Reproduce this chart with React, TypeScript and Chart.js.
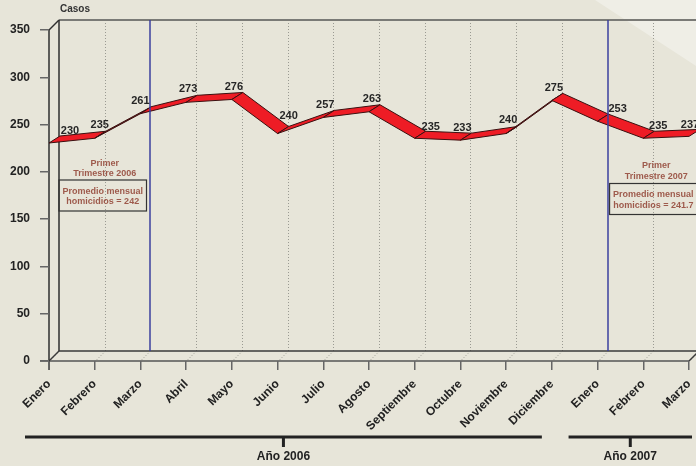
import { useEffect, useRef } from "react";
import { Chart, registerables } from "chart.js";

Chart.register(...registerables);

// ---------- data ----------
const months2006 = ["Enero", "Febrero", "Marzo", "Abril", "Mayo", "Junio", "Julio", "Agosto", "Septiembre", "Octubre", "Noviembre", "Diciembre"];
const months2007 = ["Enero", "Febrero", "Marzo"];
const categories = [...months2006, ...months2007];
const casos = [230, 235, 261, 273, 276, 240, 257, 263, 235, 233, 240, 275, 253, 235, 237];
const yMin = 0;
const yMax = 350;
const yStep = 50;
const yTitle = "Casos";
const yearLabels = ["Año 2006", "Año 2007"];
const quarterTitle2006 = ["Primer", "Trimestre 2006"];
const quarterBox2006 = ["Promedio mensual", "homicidios = 242"];
const quarterTitle2007 = ["Primer", "Trimestre 2007"];
const quarterBox2007 = ["Promedio mensual", "homicidios = 241.7"];
const markerIndices = [2, 12]; // Marzo 2006, Enero 2007

// ---------- style ----------
const W = 696;
const H = 466;
const FONT = "'Liberation Sans', Arial, Helvetica, sans-serif";
const BG = "#E7E5D9";
const DEPTH_X = 10;
const DEPTH_Y = -10;
const RIB_DX = 11;
const RIB_DY = -7;
const labelNudge: [number, number][] = [
  [19, -13], [3, -14], [-2, -13], [0, -14], [0, -13], [9, -18], [0, -13], [1, -13],
  [14, -12], [0, -13], [0, -14], [0, -13], [18, -13], [13, -13], [-1, -12],
];

const line = (ctx: CanvasRenderingContext2D, x1: number, y1: number, x2: number, y2: number) => {
  ctx.beginPath();
  ctx.moveTo(x1, y1);
  ctx.lineTo(x2, y2);
  ctx.stroke();
};

const chart3dPlugin = {
  id: "chart3d",
  beforeDraw(chart: any) {
    const { ctx, chartArea } = chart;
    const { left, right, top, bottom } = chartArea;
    const xs = chart.scales.x;
    ctx.save();
    ctx.fillStyle = BG;
    ctx.fillRect(0, 0, W, H);
    ctx.fillStyle = "#EFEEE6";
    ctx.beginPath();
    ctx.moveTo(595, 0);
    ctx.lineTo(W, 0);
    ctx.lineTo(W, 66);
    ctx.closePath();
    ctx.fill();

    const bl = left + DEPTH_X;
    const bt = top + DEPTH_Y;
    const bb = bottom + DEPTH_Y;
    const br = right + DEPTH_X;

    // dotted gridlines on back wall and floor
    ctx.strokeStyle = "#9a9a92";
    ctx.lineWidth = 1;
    ctx.setLineDash([1, 2]);
    categories.forEach((_, i) => {
      const px = Math.round(xs.getPixelForValue(i)) + 0.5;
      if (i > 0 && !markerIndices.includes(i)) line(ctx, px + DEPTH_X, bt, px + DEPTH_X, bb);
      line(ctx, px + 1, bottom - 1, px + DEPTH_X - 1, bb + 1);
    });
    ctx.setLineDash([]);

    // top edge of back wall
    ctx.strokeStyle = "#7a7a76";
    ctx.lineWidth = 2;
    line(ctx, bl, bt, W, bt);
    // back wall left edge
    ctx.strokeStyle = "#2e2e2e";
    ctx.lineWidth = 1.5;
    line(ctx, bl, bt, bl, bb);
    line(ctx, left, top, bl, bt);
    // floor
    ctx.strokeStyle = "#3a3a3a";
    line(ctx, bl, bb, br, bb);
    line(ctx, left, bottom, bl, bb);
    line(ctx, right, bottom, br, bb);
    ctx.strokeStyle = "#555";
    line(ctx, left - 9, bottom, right, bottom);
    // left axis
    ctx.strokeStyle = "#2e2e2e";
    line(ctx, left, top, left, bottom + 9);
    ctx.restore();
  },
  afterDatasetsDraw(chart: any) {
    const { ctx, chartArea } = chart;
    const { top, bottom } = chartArea;
    const meta = chart.getDatasetMeta(0);
    const pts = meta.data.map((p: any) => ({ x: p.x, y: p.y - 0.5 }));
    ctx.save();
    ctx.lineJoin = "round";
    for (let i = 0; i < pts.length - 1; i++) {
      const a = pts[i];
      const b = pts[i + 1];
      const s = (b.y - a.y) / (b.x - a.x);
      const thick = -RIB_DY + s * RIB_DX;
      ctx.beginPath();
      ctx.moveTo(a.x, a.y);
      ctx.lineTo(b.x, b.y);
      ctx.lineTo(b.x + RIB_DX, b.y + RIB_DY);
      ctx.lineTo(a.x + RIB_DX, a.y + RIB_DY);
      ctx.closePath();
      ctx.fillStyle = thick > 1.5 ? "#EE1C25" : "#7a1c1c";
      ctx.fill();
      ctx.strokeStyle = "#3a1010";
      ctx.lineWidth = 1;
      ctx.stroke();
    }

    // blue marker lines
    const xs = chart.scales.x;
    ctx.strokeStyle = "#3b3f9e";
    ctx.lineWidth = 1.5;
    markerIndices.forEach((i) => {
      const px = Math.round(xs.getPixelForValue(i)) + DEPTH_X;
      line(ctx, px, top + DEPTH_Y, px, bottom + DEPTH_Y);
    });

    // value labels
    ctx.fillStyle = "#262626";
    ctx.font = `bold 11px ${FONT}`;
    ctx.textAlign = "center";
    ctx.textBaseline = "middle";
    meta.data.forEach((p: any, i: number) => {
      const [dx, dy] = labelNudge[i];
      ctx.fillText(String(casos[i]), p.x + 2 + dx, p.y + dy);
    });
    ctx.restore();
  },
  afterDraw(chart: any) {
    const { ctx, chartArea } = chart;
    const xs = chart.scales.x;
    const px = (i: number) => xs.getPixelForValue(i);
    ctx.save();
    // y title
    ctx.fillStyle = "#333";
    ctx.font = `bold 10px ${FONT}`;
    ctx.textAlign = "left";
    ctx.textBaseline = "middle";
    ctx.fillText(yTitle, chartArea.left + 11, 9.5);

    // quarter annotations
    const annot = (title: string[], box: string[], cx: number, ty: number, bx: number, by: number, bw: number) => {
      ctx.fillStyle = "#9E5A4C";
      ctx.font = `bold 9px ${FONT}`;
      ctx.textAlign = "center";
      ctx.textBaseline = "middle";
      ctx.fillText(title[0], cx, ty);
      ctx.fillText(title[1], cx, ty + 10.5);
      ctx.strokeStyle = "#333";
      ctx.lineWidth = 1.2;
      ctx.strokeRect(bx, by, bw, 31);
      const bcx = bx + bw / 2;
      ctx.fillText(box[0], bcx, by + 11.5);
      ctx.fillText(box[1], bcx, by + 22);
    };
    annot(quarterTitle2006, quarterBox2006, px(1) + 10, 163.5, px(0) + 10, 180, 87.5);
    annot(quarterTitle2007, quarterBox2007, px(13) + 13, 166, px(12) + 12, 183.5, 87.5);

    // year brackets
    ctx.strokeStyle = "#222";
    ctx.fillStyle = "#222";
    ctx.lineWidth = 3;
    const bracket = (x1: number, x2: number, label: string) => {
      const cx = (x1 + x2) / 2;
      line(ctx, x1, 437, x2, 437);
      line(ctx, cx, 437, cx, 447);
      ctx.font = `bold 12px ${FONT}`;
      ctx.textAlign = "center";
      ctx.textBaseline = "middle";
      ctx.fillText(label, cx, 457);
    };
    bracket(px(0) - 24, px(11) - 10, yearLabels[0]);
    bracket(px(12) - 29, px(14) + 3, yearLabels[1]);
    ctx.restore();
  },
};

export default function App() {
  const ref = useRef<HTMLCanvasElement | null>(null);
  useEffect(() => {
    document.body.style.margin = "0";
    if (!ref.current) return;
    const chart = new Chart(ref.current, {
      type: "line",
      data: {
        labels: categories,
        datasets: [
          {
            data: casos,
            borderColor: "rgba(0,0,0,0)",
            backgroundColor: "rgba(0,0,0,0)",
            pointRadius: 0,
            borderWidth: 0,
          },
        ],
      },
      options: {
        animation: false,
        responsive: false,
        devicePixelRatio: 1,
        layout: { padding: { top: 30, right: 7, left: 0, bottom: 0 } },
        plugins: { legend: { display: false }, tooltip: { enabled: false } },
        scales: {
          x: {
            type: "category",
            offset: false,
            border: { display: false },
            grid: { drawOnChartArea: false, tickLength: 9, color: "#666", lineWidth: 1.5 },
            ticks: {
              autoSkip: false,
              maxRotation: 45,
              minRotation: 45,
              padding: 7,
              color: "#222",
              font: { family: FONT, size: 12, weight: "bold" },
            },
            afterFit: (s: any) => {
              s.height = 105;
              s.paddingLeft = 0;
              s.paddingRight = 0;
            },
          },
          y: {
            min: yMin,
            max: yMax,
            border: { display: false },
            grid: { drawOnChartArea: false, tickLength: 9, color: "#666", lineWidth: 1.5 },
            ticks: {
              stepSize: yStep,
              padding: 10,
              color: "#222",
              font: { family: FONT, size: 12, weight: "bold" },
            },
            afterFit: (s: any) => {
              s.width = 49;
              s.paddingTop = 0;
              s.paddingBottom = 0;
            },
          },
        },
      },
      plugins: [chart3dPlugin],
    } as any);
    return () => chart.destroy();
  }, []);
  return (
    <div style={{ width: W, height: H, background: BG }}>
      <canvas ref={ref} width={W} height={H} style={{ display: "block" }} />
    </div>
  );
}
